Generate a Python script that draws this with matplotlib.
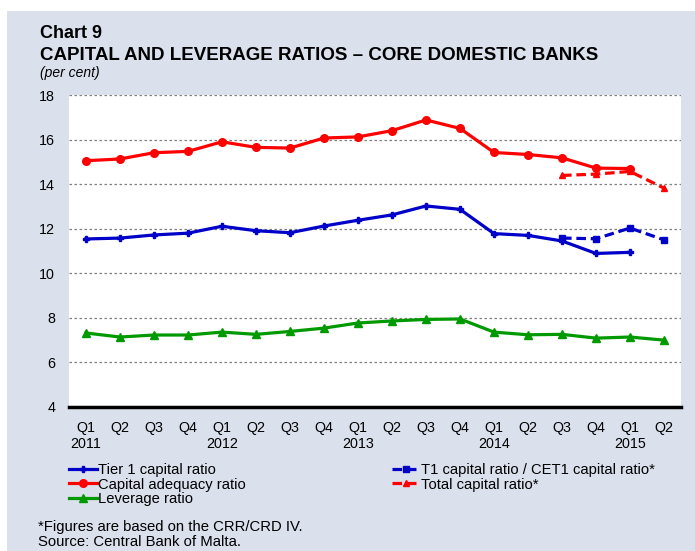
import numpy as np
import matplotlib
matplotlib.use("Agg")
import matplotlib.pyplot as plt
from matplotlib.patches import Rectangle

plt.rcParams['font.family'] = ['Liberation Sans', 'DejaVu Sans']

# ---- data ----
quarters = ['Q1', 'Q2', 'Q3', 'Q4'] * 4 + ['Q1', 'Q2']
years = ['2011', '', '', '', '2012', '', '', '', '2013', '', '', '', '2014', '', '', '', '2015', '']
tier1 = [11.54, 11.58, 11.72, 11.80, 12.11, 11.91, 11.82, 12.12, 12.38, 12.62, 13.02, 12.87,
         11.78, 11.70, 11.45, 10.89, 10.94, np.nan]
car = [15.05, 15.13, 15.41, 15.47, 15.90, 15.65, 15.62, 16.07, 16.12, 16.40, 16.88, 16.50,
       15.42, 15.33, 15.18, 14.72, 14.70, np.nan]
leverage = [7.32, 7.14, 7.23, 7.23, 7.36, 7.26, 7.39, 7.54, 7.77, 7.86, 7.93, 7.95,
            7.36, 7.24, 7.26, 7.09, 7.14, 7.00]
t1_cet1 = [np.nan] * 14 + [11.58, 11.55, 12.03, 11.50]
total_capital = [np.nan] * 14 + [14.39, 14.45, 14.57, 13.82]
yticks = [4, 6, 8, 10, 12, 14, 16, 18]

W, H = 695, 551
fig = plt.figure(figsize=(W / 100, H / 100), dpi=100)
fig.patch.set_facecolor('white')
fig.add_artist(Rectangle((7 / W, 0), (W - 7) / W, (H - 11) / H, transform=fig.transFigure,
                         facecolor='#DAE0EC', edgecolor='none', zorder=0))

ax = fig.add_axes([69 / W, (H - 407) / H, 612 / W, 312 / H])
ax.set_facecolor('white')

x = np.arange(len(quarters))
blue = '#0000C8'
red = '#FF0000'
green = '#009A00'
dash = (0, (3, 1.5))

l1, = ax.plot(x, tier1, color=blue, lw=2.3, marker='P', ms=4, label='Tier 1 capital ratio')
l2, = ax.plot(x, car, color=red, lw=2.3, marker='o', ms=5.5, label='Capital adequacy ratio')
l3, = ax.plot(x, leverage, color=green, lw=2.3, marker='^', ms=6, label='Leverage ratio')
l4, = ax.plot(x, t1_cet1, color=blue, lw=2.3, ls=dash, marker='s', ms=4.5,
              label='T1 capital ratio / CET1 capital ratio*')
l5, = ax.plot(x, total_capital, color=red, lw=2.3, ls=dash, marker='^', ms=4,
              label='Total capital ratio*')

ax.set_xlim(-0.5, len(quarters) - 0.5)
ax.set_ylim(4, 18)
ax.set_yticks(yticks)
ax.set_yticklabels([str(v) for v in yticks])
ax.set_xticks(x)
ax.set_xticklabels([q + ('\n' + y if y else '') for q, y in zip(quarters, years)])
ax.tick_params(axis='both', length=0, labelsize=10.3, colors='black')
ax.tick_params(axis='y', pad=10)
ax.tick_params(axis='x', pad=10)
ax.grid(axis='y', color='#7F7F7F', lw=0.9, ls=(0, (2, 2)))
ax.set_axisbelow(True)
for s in ['top', 'left', 'right']:
    ax.spines[s].set_visible(False)
ax.spines['bottom'].set_linewidth(2.5)
ax.spines['bottom'].set_color('black')

# titles
fig.text(40 / W, 1 - 38 / H, 'Chart 9', fontsize=13, fontweight='bold', va='baseline')
fig.text(40 / W, 1 - 60.5 / H, 'CAPITAL AND LEVERAGE RATIOS \u2013 CORE DOMESTIC BANKS',
         fontsize=13.5, fontweight='bold', va='baseline')
fig.text(40 / W, 1 - 77.5 / H, '(per cent)', fontsize=10, style='italic', va='baseline')

leg_kw = dict(loc='upper left', frameon=False, fontsize=10.6, handlelength=1.9,
              handletextpad=0.1, borderpad=0, borderaxespad=0, labelspacing=0.04)
fig.legend(handles=[l1, l2, l3], bbox_to_anchor=(69 / W, 1 - 463 / H), **leg_kw)
fig.legend(handles=[l4, l5], bbox_to_anchor=(392 / W, 1 - 463 / H), **leg_kw)

fig.text(38 / W, 1 - 530.5 / H, '*Figures are based on the CRR/CRD IV.', fontsize=10.7, va='baseline')
fig.text(38 / W, 1 - 546.5 / H, 'Source: Central Bank of Malta.', fontsize=10.7, va='baseline')

fig.savefig('out.png', dpi=100, facecolor=fig.get_facecolor())
